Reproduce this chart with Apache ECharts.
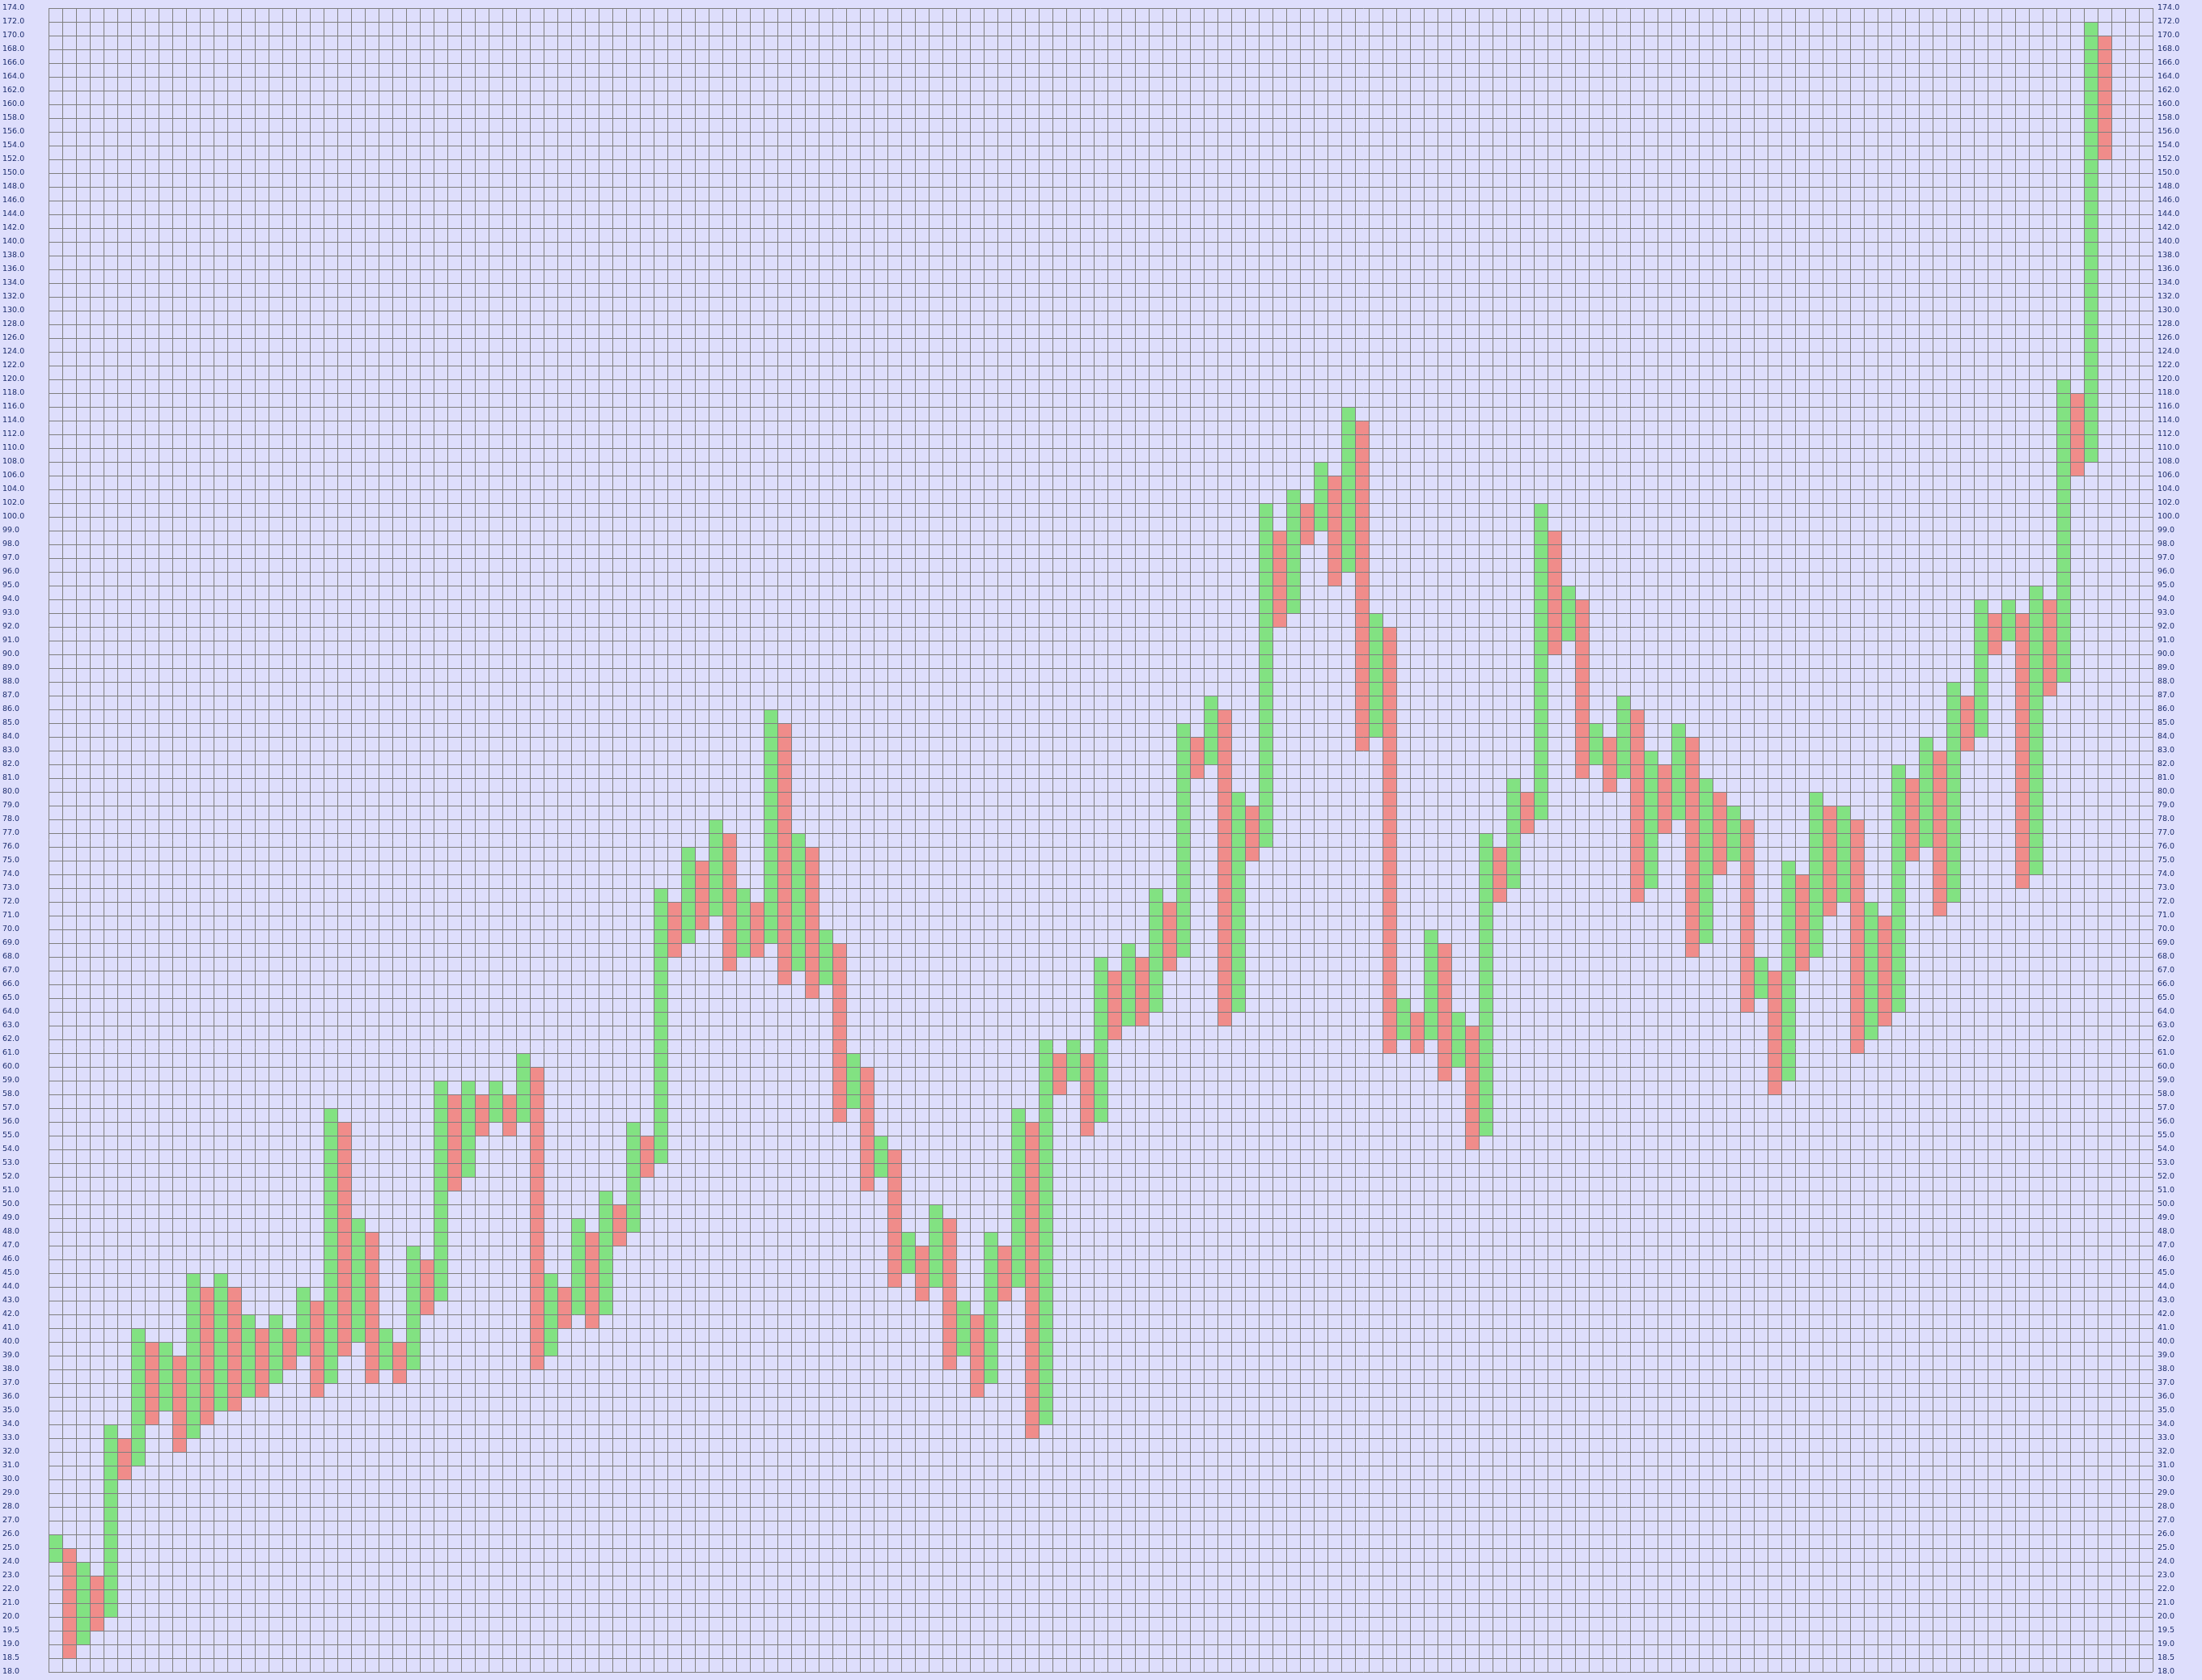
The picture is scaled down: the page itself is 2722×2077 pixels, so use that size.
<!DOCTYPE html>
<html>
<head>
<meta charset="utf-8">
<script src="https://cdn.jsdelivr.net/npm/echarts@6/dist/echarts.min.js"></script>
<style>
html,body{margin:0;padding:0;background:#dedefc;}
#chart{width:2722px;height:2077px;}
</style>
</head>
<body>
<div id="chart"></div>
<script>
// Price levels (y-axis tick labels), bottom to top
const priceLevels = [
  "18.0","18.5","19.0","19.5",
  "20.0","21.0","22.0","23.0","24.0","25.0","26.0","27.0","28.0","29.0",
  "30.0","31.0","32.0","33.0","34.0","35.0","36.0","37.0","38.0","39.0",
  "40.0","41.0","42.0","43.0","44.0","45.0","46.0","47.0","48.0","49.0",
  "50.0","51.0","52.0","53.0","54.0","55.0","56.0","57.0","58.0","59.0",
  "60.0","61.0","62.0","63.0","64.0","65.0","66.0","67.0","68.0","69.0",
  "70.0","71.0","72.0","73.0","74.0","75.0","76.0","77.0","78.0","79.0",
  "80.0","81.0","82.0","83.0","84.0","85.0","86.0","87.0","88.0","89.0",
  "90.0","91.0","92.0","93.0","94.0","95.0","96.0","97.0","98.0","99.0",
  "100.0","102.0","104.0","106.0","108.0","110.0","112.0","114.0","116.0","118.0",
  "120.0","122.0","124.0","126.0","128.0","130.0","132.0","134.0","136.0","138.0",
  "140.0","142.0","144.0","146.0","148.0","150.0","152.0","154.0","156.0","158.0",
  "160.0","162.0","164.0","166.0","168.0","170.0","172.0","174.0"
];

// Column lows and highs (price), one per column; even = rising (green), odd = falling (red)
const colLow = [
  24,18.5,19,19.5,20,30,31,34,35,32,
  33,34,35,35,36,36,37,38,39,36,
  37,39,40,37,38,37,38,42,43,51,
  52,55,56,55,56,38,39,41,42,41,
  42,47,48,52,53,68,69,70,71,67,
  68,68,69,66,67,65,66,56,57,51,
  52,44,45,43,44,38,39,36,37,43,
  44,33,34,58,59,55,56,62,63,63,
  64,67,68,81,82,63,64,75,76,92,
  93,98,99,95,96,83,84,61,62,61,
  62,59,60,54,55,72,73,77,78,90,
  91,81,82,80,81,72,73,77,78,68,
  69,74,75,64,65,58,59,67,68,71,
  72,61,62,63,64,75,76,71,72,83,
  84,90,91,73,74,87,88,106,108,152
];
const colHigh = [
  26,25,24,23,34,33,41,40,40,39,
  45,44,45,44,42,41,42,41,44,43,
  57,56,49,48,41,40,47,46,59,58,
  59,58,59,58,61,60,45,44,49,48,
  51,50,56,55,73,72,76,75,78,77,
  73,72,86,85,77,76,70,69,61,60,
  55,54,48,47,50,49,43,42,48,47,
  57,56,62,61,62,61,68,67,69,68,
  73,72,85,84,87,86,80,79,102,99,
  104,102,108,106,116,114,93,92,65,64,
  70,69,64,63,77,76,81,80,102,99,
  95,94,85,84,87,86,83,82,85,84,
  81,80,79,78,68,67,75,74,80,79,
  79,78,72,71,82,81,84,83,88,87,
  94,93,94,93,95,94,120,118,172,170
];

const upColor = '#82e282';
const downColor = '#f08c8a';
const labelColor = '#1c2d6e';

function levelIndex(p) {
  return priceLevels.indexOf(Number(p).toFixed(1));
}

const boxes = colLow.map((lo, i) => [i, levelIndex(lo), levelIndex(colHigh[i]), i % 2]);

const nCols = 153;
const nRows = priceLevels.length - 1;

const chart = echarts.init(document.getElementById('chart'), null, {renderer: 'canvas'});

const yCommon = {
  type: 'value', min: 0, max: nRows, interval: 1,
  z: 5,
  axisLine: {show: false}, axisTick: {show: false},
  splitLine: {show: true, lineStyle: {color: '#808080', width: 1}},
  axisLabel: {
    formatter: v => priceLevels[v],
    color: labelColor, fontFamily: 'DejaVu Sans', fontSize: 9.5
  }
};

chart.setOption({
  backgroundColor: '#dedefc',
  animation: false,
  grid: {left: 60, right: 61, top: 10, bottom: 10, containLabel: false},
  xAxis: {
    type: 'value', min: 0, max: nCols, interval: 1, z: 5,
    axisLine: {show: false}, axisTick: {show: false}, axisLabel: {show: false},
    splitLine: {show: true, lineStyle: {color: '#808080', width: 1}}
  },
  yAxis: [
    Object.assign({}, yCommon, {position: 'left',
      axisLabel: Object.assign({}, yCommon.axisLabel, {align: 'left', margin: 57})}),
    Object.assign({}, yCommon, {position: 'right',
      splitLine: {show: false},
      axisLabel: Object.assign({}, yCommon.axisLabel, {align: 'left', margin: 6})})
  ],
  series: [{
    type: 'custom',
    z: 2,
    data: boxes,
    encode: {x: 0, y: [1, 2]},
    renderItem: function (params, api) {
      const col = api.value(0);
      const p0 = api.coord([col, api.value(1)]);
      const p1 = api.coord([col + 1, api.value(2)]);
      return {
        type: 'rect',
        shape: {x: p0[0], y: p1[1], width: p1[0] - p0[0], height: p0[1] - p1[1]},
        style: {fill: api.value(3) === 0 ? upColor : downColor}
      };
    }
  }]
});
</script>
</body>
</html>
